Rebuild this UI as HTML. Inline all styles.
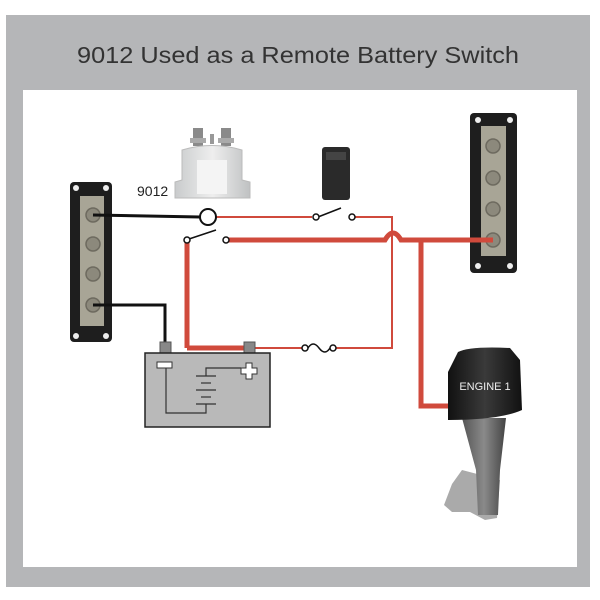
<!DOCTYPE html>
<html><head><meta charset="utf-8"><style>
html,body{margin:0;padding:0;background:#fff;width:600px;height:600px;overflow:hidden}
</style></head><body>
<svg width="600" height="600" viewBox="0 0 600 600" xmlns="http://www.w3.org/2000/svg">
<defs>
<linearGradient id="rel" x1="0" x2="1"><stop offset="0" stop-color="#c9cbcc"/><stop offset="0.5" stop-color="#eeeeee"/><stop offset="1" stop-color="#bfc1c2"/></linearGradient>
<linearGradient id="eng" x1="0" x2="1"><stop offset="0" stop-color="#111"/><stop offset="0.5" stop-color="#3a3a3a"/><stop offset="1" stop-color="#111"/></linearGradient>
<linearGradient id="leg" x1="0" x2="1"><stop offset="0" stop-color="#555"/><stop offset="0.5" stop-color="#8a8a8a"/><stop offset="1" stop-color="#444"/></linearGradient>
</defs>
<rect x="6" y="15" width="584" height="572" fill="#b5b6b8"/>
<rect x="23" y="90" width="554" height="477" fill="#fff"/>
<text x="298" y="63" font-family="Liberation Sans, sans-serif" font-size="23" fill="#333" text-anchor="middle" textLength="442" lengthAdjust="spacingAndGlyphs">9012 Used as a Remote Battery Switch</text>

<rect x="70" y="182" width="42" height="160" rx="4" fill="#1e1e1e"/>
<rect x="80" y="196" width="24" height="130" fill="#a8a596"/>
<circle cx="76" cy="188" r="3" fill="#eee"/><circle cx="106" cy="188" r="3" fill="#eee"/>
<circle cx="76" cy="336" r="3" fill="#eee"/><circle cx="106" cy="336" r="3" fill="#eee"/>
<g fill="#8c897c" stroke="#6d6a5f" stroke-width="1.5">
<circle cx="93" cy="215" r="7"/><circle cx="93" cy="244" r="7"/><circle cx="93" cy="274" r="7"/><circle cx="93" cy="305" r="7"/></g>

<rect x="470" y="113" width="47" height="160" rx="4" fill="#1e1e1e"/>
<rect x="481" y="126" width="25" height="130" fill="#a8a596"/>
<circle cx="478" cy="120" r="3" fill="#eee"/><circle cx="510" cy="120" r="3" fill="#eee"/>
<circle cx="478" cy="266" r="3" fill="#eee"/><circle cx="510" cy="266" r="3" fill="#eee"/>
<g fill="#8c897c" stroke="#6d6a5f" stroke-width="1.5">
<circle cx="493" cy="146" r="7"/><circle cx="493" cy="178" r="7"/><circle cx="493" cy="209" r="7"/><circle cx="493" cy="240" r="7"/></g>

<rect x="193" y="128" width="10" height="18" fill="#8a8a8a"/><rect x="221" y="128" width="10" height="18" fill="#8a8a8a"/>
<rect x="190" y="138" width="16" height="5" fill="#aaa"/><rect x="218" y="138" width="16" height="5" fill="#aaa"/>
<rect x="210" y="134" width="4" height="10" fill="#999"/>
<path d="M175 182 L182 180 L182 150 Q212 141 242 150 L242 180 L250 182 L250 198 L175 198 Z" fill="url(#rel)" stroke="#bbb"/>
<rect x="197" y="160" width="30" height="34" fill="#f4f4f4"/>
<text x="137" y="196" font-family="Liberation Sans, sans-serif" font-size="14" fill="#222">9012</text>

<rect x="322" y="147" width="28" height="53" rx="3" fill="#2a2a2a"/>
<rect x="326" y="152" width="20" height="8" fill="#444"/>

<g fill="none" stroke-linecap="butt">
<path d="M93 215 L200 217" stroke="#111" stroke-width="3"/>
<path d="M93 305 L165 305 L165 342" stroke="#111" stroke-width="3"/>
<path d="M216 217 L312 217 M355 217 L392 217 L392 348 L336 348 M306 348 L250 348" stroke="#d04a3c" stroke-width="2"/>
<path d="M187 348 L187 240 M226 240 L385 240 Q393 226 401 240 L493 240 M421 240 L421 406 L448 406 M187 348 L250 348" stroke="#d04a3c" stroke-width="5"/>
</g>
<circle cx="208" cy="217" r="8" fill="#fff" stroke="#111" stroke-width="2"/>
<g stroke="#111" stroke-width="1.5" fill="#fff">
<line x1="318" y1="217" x2="341" y2="208"/>
<circle cx="316" cy="217" r="3"/><circle cx="352" cy="217" r="3"/>
<line x1="189" y1="239" x2="216" y2="230"/>
<circle cx="187" cy="240" r="3"/><circle cx="226" cy="240" r="3"/>
<circle cx="305" cy="348" r="3"/><circle cx="333" cy="348" r="3"/>
<path d="M308 348 Q313 340 319 348 Q325 356 330 348" fill="none"/>
</g>

<rect x="160" y="342" width="11" height="12" fill="#888" stroke="#555"/>
<rect x="244" y="342" width="11" height="12" fill="#888" stroke="#555"/>
<rect x="145" y="353" width="125" height="74" fill="#b9b9b9" stroke="#222" stroke-width="1.5"/>
<rect x="157" y="362" width="15" height="6" fill="#fff" stroke="#333"/>
<path d="M241 368 h5 v-5 h6 v5 h5 v6 h-5 v5 h-6 v-5 h-5 Z" fill="#fff" stroke="#333"/>
<g stroke="#333" stroke-width="1.2" fill="none">
<path d="M166 368 L166 413 L206 413 L206 404"/>
<path d="M206 376 L206 368 L241 368"/>
<line x1="196" y1="376" x2="216" y2="376"/><line x1="201" y1="383" x2="211" y2="383"/>
<line x1="196" y1="390" x2="216" y2="390"/><line x1="201" y1="397" x2="211" y2="397"/>
<line x1="196" y1="404" x2="216" y2="404"/>
</g>

<path d="M462 470 L452 484 L444 505 L452 512 L470 512 L485 520 L497 518 L500 480 Z" fill="#aaa"/>
<path d="M462 418 L506 418 L500 470 L498 515 L478 515 L476 470 Z" fill="url(#leg)"/>
<path d="M458 352 Q470 346 510 348 L520 360 L522 410 Q500 420 448 420 L448 372 Z" fill="url(#eng)"/>
<text x="485" y="390" font-family="Liberation Sans, sans-serif" font-size="11" fill="#eee" text-anchor="middle">ENGINE 1</text>
</svg>
</body></html>
